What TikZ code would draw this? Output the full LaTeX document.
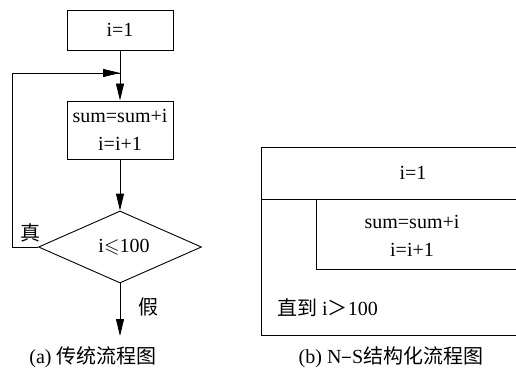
\documentclass[tikz,border=0pt]{standalone}
\usepackage{amssymb}
\usepackage{fontspec}
\setmainfont{Liberation Serif}
\newfontfamily\cjk{Noto Sans CJK SC}
\usetikzlibrary{arrows.meta,shapes.geometric}
\begin{document}
\begin{tikzpicture}[x=1pt,y=-1pt,
  every node/.style={font=\fontsize{20}{26}\selectfont, inner sep=0pt},
  line/.style={line width=0.9pt},
  arr/.style={line, -{Triangle[length=17pt,width=8pt]}},
  proc/.style={draw, line width=0.9pt, minimum width=106pt, align=center},
  dec/.style={draw, line width=0.9pt, diamond, aspect=2.26, minimum width=163pt, minimum height=72pt}]
\useasboundingbox (0,0) rectangle (516,377);
\fill[white] (0,0) rectangle (516,377);
% (a)
\node[proc, minimum height=40pt] (init) at (120,30) {i=1};
\node[proc, minimum height=58pt] (body) at (120,130) {sum=sum+i\\[2pt]i=i+1};
\node[dec] (cond) at (120,247) {};
\node (condtxt) at (124,247) {i$\leqslant$100};
\coordinate (join) at (120,73);
\coordinate (lb) at (12,247);
\coordinate (lt) at (12,73);
\coordinate (out) at (120,336);
\draw[arr] (init.south) -- (body.north);
\draw[arr] (body.south) -- (cond.north);
\draw[line] (cond.west) -- (lb) -- (lt) -- (join);
\draw[arr] (lt) -- (join);
\draw[arr] (cond.south) -- (out);
\node (zhen) at (30,233) {\cjk 真};
\node (jia) at (148,307) {\cjk 假};
\node (capa) at (93,357) {(a) {\cjk 传统流程图}};
% (b)
\coordinate (o1) at (261,147);
\coordinate (o2) at (516,147);
\coordinate (o3) at (261,335);
\coordinate (o4) at (516,335);
\coordinate (h1) at (261,199);
\coordinate (h2) at (516,199);
\coordinate (i1) at (316,199);
\coordinate (i2) at (316,269);
\coordinate (i3) at (516,269);
\draw[line] (o2) -- (o1) -- (o3) -- (o4);
\draw[line] (h1) -- (h2);
\draw[line] (i1) -- (i2) -- (i3);
\node (binit) at (413,173) {i=1};
\node[align=center] (bbody) at (412,236) {sum=sum+i\\[2pt]i=i+1};
\node[anchor=west] (until) at (277,308) {{\cjk 直到} i{\cjk ＞}100};
\node (capb) at (391,357) {(b) N{\cjk –}S{\cjk 结构化流程图}};
\end{tikzpicture}
\end{document}
